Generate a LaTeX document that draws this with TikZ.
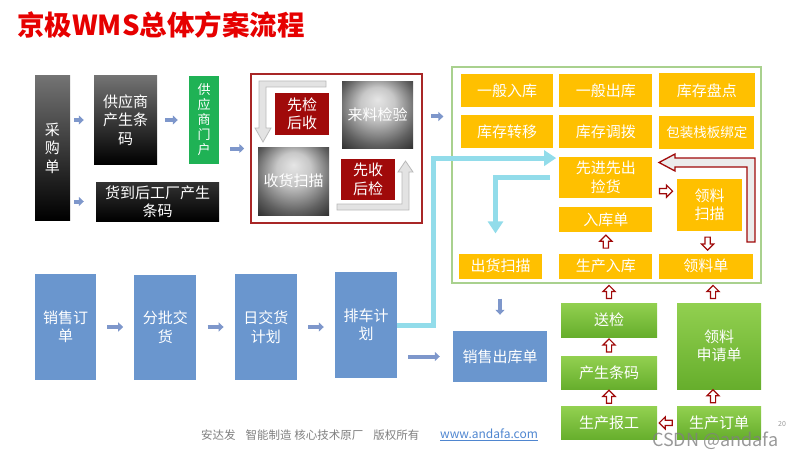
\documentclass[tikz,border=0pt]{standalone}
\usepackage{fontspec}
\setmainfont{Noto Sans CJK SC}
\usetikzlibrary{arrows.meta,positioning,calc,shapes.arrows}
\definecolor{tred}{HTML}{E60000}
\definecolor{yel}{HTML}{FFC000}
\definecolor{blu}{HTML}{6A96CE}
\definecolor{arb}{HTML}{7E97CB}
\definecolor{dkr}{HTML}{A00A0A}
\definecolor{rbd}{HTML}{A82626}
\definecolor{grna}{HTML}{92D050}
\definecolor{grnb}{HTML}{66AE2C}
\definecolor{mg}{HTML}{1FB255}
\definecolor{pgr}{HTML}{A9D18E}
\definecolor{cya}{HTML}{92DCEA}
\definecolor{ftg}{HTML}{7F7F7F}
\definecolor{url}{HTML}{4F86D0}
\pgfdeclareradialshading{glow}{\pgfpoint{0bp}{12bp}}{color(0bp)=(black!10); color(12bp)=(black!22); color(28bp)=(black!62); color(42bp)=(black!90); color(50bp)=(black)}
\tikzset{
  box/.style={rectangle,align=center,text=white,inner sep=1pt,font=\fontsize{15}{18.5}\selectfont},
  gbox/.style={box,top color=black!55,bottom color=black},
  kbox/.style={box,top color=black!80,bottom color=black},
  rbox/.style={box,shading=glow},
  dbox/.style={box,fill=dkr},
  ybox/.style={box,fill=yel},
  bbox/.style={box,fill=blu},
  lbox/.style={box,top color=grna,bottom color=grnb},
  ar/.style={-{Triangle[length=5pt,width=9pt]},line width=4pt,draw=arb},
  cy/.style={-{Triangle[length=12pt,width=15pt]},line width=5pt,draw=cya},
  har/.style={single arrow,draw=dkr,fill=white,line width=1.2pt,inner sep=2pt,minimum height=13pt,single arrow head extend=3.5pt},
  gar/.style={fill=gray!22,draw=gray!55,line width=0.8pt},
}

\begin{document}
\begin{tikzpicture}[x=1pt,y=-1pt]
\useasboundingbox (0,0) rectangle (804,460);
\node[anchor=west,inner sep=0,text=tred,font=\fontsize{27.5}{30}\selectfont\bfseries] (ttl) at (17,25) {京极WMS总体方案流程};

% purchase side
\node[gbox,minimum width=35,minimum height=144] (cg) at (52.5,148) {采\\购\\单};
\node[gbox,minimum width=63,minimum height=88] (gy) at (125.5,120) {供应商\\产生条\\码};
\node[box,fill=mg,minimum width=30,minimum height=88,font=\fontsize{13}{15}\selectfont] (mh) at (204,120) {供\\应\\商\\门\\户};
\node[kbox,minimum width=123,minimum height=39] (hd) at (157.5,201.5) {货到后工厂产生\\条码};
\draw[ar,shorten <=4pt,shorten >=10pt] (cg.east |- gy.west) -- (gy.west);
\draw[ar,shorten <=4pt,shorten >=12pt] (cg.east |- hd.west) -- (hd.west);
\draw[ar,shorten <=8pt,shorten >=11pt] (gy) -- (mh);

% receiving
\node[draw=rbd,line width=1.5pt,minimum width=171,minimum height=149] (rb) at (336.5,148.5) {};
\node[dbox,minimum width=54,minimum height=42] (xjhs) at (302,114) {先检\\后收};
\node[rbox,minimum width=71,minimum height=66] (ll) at (377.5,115) {来料检验};
\node[rbox,minimum width=71,minimum height=68] (sh) at (293.5,181) {收货扫描};
\node[dbox,minimum width=54,minimum height=41] (xshj) at (368,179.5) {先收\\后检};
\draw[gar] (326,81) -- (259,81) -- (259,128) -- (255,128) -- (263,142) -- (271,128) -- (266,128) -- (266,87) -- (326,87) -- cycle;
\draw[gar] (337,210) -- (409,210) -- (409,172) -- (413,172) -- (405.5,161) -- (398,172) -- (402,172) -- (402,204) -- (337,204) -- cycle;
\draw[ar,shorten <=11pt,shorten >=6pt] (mh.east |- rb.west) -- (rb.west);

% warehouse panel
\node[draw=pgr,line width=1.2pt,minimum width=309,minimum height=216] (wp) at (606.5,175) {};
\coordinate (r1) at ([yshift=32pt]rb.east);
\draw[ar,shorten <=8pt,shorten >=8pt] (r1) -- (r1 -| wp.west);
\node[ybox,minimum width=92,minimum height=33] (yrk) at (507,90.5) {一般入库};
\node[ybox,minimum width=93,minimum height=33,right=6pt of yrk] (yck) {一般出库};
\node[ybox,minimum width=96,minimum height=34,right=6pt of yck] (kpd) {库存盘点};
\node[ybox,minimum width=92,minimum height=33,below=8pt of yrk] (kzy) {库存转移};
\node[ybox,minimum width=93,minimum height=33,below=8pt of yck] (kdb) {库存调拨};
\node[ybox,minimum width=95,minimum height=33,below=8pt of kpd,font=\fontsize{13.5}{16}\selectfont] (bzb) {包装栈板绑定};
\node[ybox,minimum width=93,minimum height=41,below=8pt of kdb] (xj) {先进先出\\捡货};
\node[ybox,minimum width=93,minimum height=25,below=9pt of xj] (rd) {入库单};
\node[ybox,minimum width=93,minimum height=25,below=21pt of rd] (sr) {生产入库};
\node[ybox,minimum width=83,minimum height=25,left=17pt of sr] (ch) {出货扫描};
\node[ybox,minimum width=94,minimum height=25,right=6pt of sr] (ld) {领料单};
\node[ybox,minimum width=65,minimum height=52] (ls) at (709.5,205) {领料\\扫描};
\node[har,shape border rotate=90] (a1) at ($(sr.north)!.5!(rd.south)$) {};
\node[har,shape border rotate=270] (a2) at ($(ls.south)!.5!(ld.north)$) {};
\node[har] (a3) at ($(xj.east)!.5!(ls.west)$) {};
\draw[fill=gray!15,draw=dkr,line width=1.3pt] (659,162.5) -- (675,154) -- (675,158) -- (755,158) -- (755,242) -- (747,242) -- (747,167) -- (675,167) -- (675,171) -- cycle;

% production
\node[lbox,minimum width=96,minimum height=34] (sj) at (609,320) {送检};
\node[lbox,minimum width=96,minimum height=33,below=19pt of sj] (cm) {产生条码};
\node[lbox,minimum width=96,minimum height=33,below=17pt of cm] (bg) {生产报工};
\node[lbox,minimum width=84,minimum height=86] (sq) at (719,346) {领料\\申请单};
\node[lbox,minimum width=84,minimum height=33] (dd) at (719,422.5) {生产订单};
\node[har,shape border rotate=90] (a4) at ($(sj.north)!.5!(sj.north |- wp.south)$) {};
\node[har,shape border rotate=90] (a5) at ($(cm.north)!.5!(sj.south)$) {};
\node[har,shape border rotate=90] (a6) at ($(bg.north)!.5!(cm.south)$) {};
\node[har,shape border rotate=90] (a7) at ($(sq.north)!.5!(sq.north |- wp.south)+(-6,0)$) {};
\node[har,shape border rotate=90] (a8) at ($(dd.north)!.5!(sq.south)+(-6,0)$) {};
\node[har,shape border rotate=180] (a9) at ($(dd.west)!.5!(bg.east)$) {};

% sales side
\node[bbox,minimum width=61,minimum height=106] (xd) at (65.5,327) {销售订\\单};
\node[bbox,minimum width=62,minimum height=105,right=38pt of xd] (fp) {分批交\\货};
\node[bbox,minimum width=62,minimum height=106,right=38pt of fp] (rj) {日交货\\计划};
\node[bbox,minimum width=62,minimum height=106] (pc) at (366,325) {排车计\\划};
\node[bbox,minimum width=94,minimum height=51] (sc) at (500,356.5) {销售出库单};
\draw[ar,shorten <=11pt,shorten >=11pt] (xd.east) -- (xd.east -| fp.west);
\draw[ar,shorten <=11pt,shorten >=11pt] (fp.east) -- (fp.east -| rj.west);
\draw[ar,shorten <=11pt,shorten >=11pt] (rj.east) -- (rj.east -| pc.west);
\draw[ar,shorten <=11pt,shorten >=13pt] (pc.east |- sc.west) -- (sc.west);
\draw[ar,shorten <=15pt,shorten >=16pt] (wp.south -| sc.north) -- (sc.north);
\draw[cy,shorten >=3pt] (pc.east) -- ++(36,0) |- ([yshift=-1.5pt]xj.north west);
\draw[cy,shorten <=9pt,shorten >=20pt] (xj.west) -| ([xshift=-5pt]ch.north);

% footer
\node[anchor=west,inner sep=0,text=ftg,font=\fontsize{11.5}{13}\selectfont] (ft) at (201,435) {安达发\hspace{10pt}智能制造 核心技术原厂\hspace{10pt}版权所有};
\node[anchor=west,inner sep=0,text=url,font=\fontsize{12}{14}\selectfont] (web) at (440,435) {\underline{www.andafa.com}};
\node[anchor=west,inner sep=0,text=gray!80,font=\fontsize{7}{8}\selectfont] (pg) at (778,424) {20};
\node[anchor=west,inner sep=0,text=gray,opacity=.8,font=\fontsize{18}{20}\selectfont] (wm) at (652,441) {CSDN @andafa};
\end{tikzpicture}
\end{document}
